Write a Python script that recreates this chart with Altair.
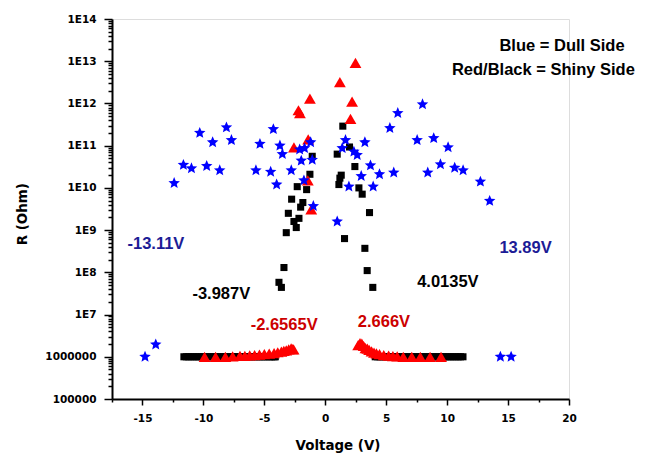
import altair as alt
import pandas as pd

# ---------------- data ----------------
# Blue stars = Dull side
star_v = [-14.79, -13.91, -12.4, -11.64, -10.98, -10.3, -9.73, -9.24, -8.66, -8.11, -7.7,
          -5.69, -5.36, -4.48, -4.26, -3.99, -3.72, -3.52, -2.79, -2.1, -1.97, -1.7, -1.2,
          -1.07, -1.75, -0.98,
          0.98, 1.66, 1.39, 2.35, 2.62, 3.25, 3.71, 2.95, 4.45, 1.94, 3.93, 5.62, 5.3, 5.95,
          7.98, 7.54, 8.9, 10.08, 8.41, 9.45, 10.62, 11.31, 12.73, 13.49, 14.37, 15.25]
star_r = [1.0e6, 1.95e6, 1.3e10, 3.5e10, 2.9e10, 2.0e11, 3.3e10, 1.2e11, 2.6e10, 2.7e11, 1.35e11,
          2.6e10, 1.1e11, 2.4e10, 2.45e11, 1.2e10, 1.0e11, 6.3e10, 2.6e10, 8.1e10, 4.4e10, 8.7e10, 1.2e11,
          4.6e10, 1.5e10, 3.7e9,
          1.6e9, 1.35e11, 8.7e10, 7.2e10, 6.0e10, 1.2e11, 3.4e10, 1.9e10, 2.1e10, 1.07e10, 1.07e10, 2.3e10, 2.6e11, 5.9e11,
          9.5e11, 1.35e11, 1.5e11, 9.1e10, 2.3e10, 3.6e10, 3.0e10, 2.6e10, 1.4e10, 4.9e9, 1.0e6, 1.0e6]

# Black squares = Shiny side
sq_v = [1.44, -1.07, 0.98, 1.99, 2.43, -1.26, -2.3, -1.53, -2.76, -1.84, -2.02, -3.03, -2.16,
        -2.57, -2.38, -3.2, -3.39, -3.8, -3.6, 1.31, 1.2, 1.12, 2.76, 3.03, 3.63, 1.58, 3.25,
        3.44, 3.9]
sq_r = [2.9e11, 5.6e10, 6.3e10, 9.3e10, 3.2e10, 2.1e10, 1.07e10, 9.1e9, 5.4e9, 4.5e9, 3.5e9, 2.5e9, 1.9e9,
        1.6e9, 1.15e9, 8.7e8, 1.3e8, 5.8e7, 4.4e7, 2.0e10, 1.7e10, 1.2e10, 1.0e10, 7.1e9, 2.6e9, 6.3e8, 3.7e8,
        1.1e8, 4.4e7]
sq_flat_v = [-11.6, -11.4, -11.2, -11.0, -10.8, -10.6, -10.4, -10.2, -10.0, -9.8, -9.6, -9.4, -9.2,
             -9.0, -8.8, -8.6, -8.4, -8.2, -8.0, -7.8, -7.6, -7.4, -7.2, -7.0, -6.8, -6.6, -6.4,
             -6.2, -6.0, -5.8, -5.6, -5.4, -5.2, -5.0, -4.8, -4.6, -4.4, -4.2, -4.1,
             4.1, 4.3, 4.5, 4.7, 4.9, 5.1, 5.3, 5.5, 5.7, 5.9, 6.1, 6.3, 6.5, 6.7, 6.9, 7.1,
             7.3, 7.5, 7.7, 7.9, 8.1, 8.3, 8.5, 8.7, 8.9, 9.1, 9.3, 9.5, 9.7, 9.9, 10.1, 10.3,
             10.5, 10.7, 10.9, 11.1, 11.3]
sq_flat_r = [1.0e6] * len(sq_flat_v)

# Red triangles = Shiny side
tri_v = [2.48, 1.2, -1.26, -2.2, -2.08, 2.2, 2.07, -2.57, -1.4, -1.43, -1.15,
         -9.9, -9.0, -8.2, -7.6, -7.0, -6.6, -6.2, -5.8, -5.4, -5.0, -4.6, -4.2, -3.9, -3.6,
         -3.4, -3.2, -3.0, -2.8, -2.7, -2.6,
         2.7, 2.85, 3.0, 3.15, 3.3, 3.45, 3.6, 3.8, 4.0, 4.2, 4.45, 4.8, 5.2, 5.55, 5.9,
         6.4, 7.1, 7.8, 8.6, 9.5]
tri_r = [9.1e12, 3.2e12, 1.3e12, 6.9e11, 5.9e11, 1.1e12, 4.3e11, 9.1e10, 1.4e11, 1.5e10, 3.1e9,
         1.0e6, 1.0e6, 1.0e6, 1.02e6, 1.05e6, 1.05e6, 1.08e6, 1.1e6, 1.12e6, 1.15e6, 1.18e6, 1.22e6, 1.28e6, 1.32e6,
         1.38e6, 1.42e6, 1.5e6, 1.58e6, 1.52e6, 1.5e6,
         1.9e6, 2.1e6, 2.05e6, 1.8e6, 1.6e6, 1.55e6, 1.45e6, 1.35e6, 1.25e6, 1.2e6, 1.15e6, 1.1e6, 1.06e6, 1.04e6, 1.02e6,
         1.0e6, 1.0e6, 1.0e6, 1.0e6, 1.0e6]

# Text annotations
ann_text = ["Blue = Dull Side", "Red/Black = Shiny Side", "-13.11V", "-3.987V", "-2.6565V",
            "2.666V", "4.0135V", "13.89V"]
ann_v = [14.29, 10.39, -16.23, -10.9, -6.12, 2.67, 7.54, 14.29]
ann_r = [1.78e13, 4.7e12, 3.5e8, 2.3e7, 4.2e6, 5.1e6, 4.4e7, 2.8e8]
ann_color = ["#000000", "#000000", "#1c1c96", "#000000", "#cc0000", "#cc0000", "#000000", "#1c1c96"]

# Axis ticks
x_tick_values = [-17.5, -15, -12.5, -10, -7.5, -5, -2.5, 0, 2.5, 5, 7.5, 10, 12.5, 15, 17.5, 20]
x_tick_labels = ["", "-15", "", "-10", "", "-5", "", "0", "", "5", "", "10", "", "15", "", "20"]
y_major_exp = [5, 6, 7, 8, 9, 10, 11, 12, 13, 14]
y_tick_labels = ["100000", "1000000", "1E7", "1E8", "1E9", "1E10", "1E11", "1E12", "1E13", "1E14"]
y_minor_mult = [1, 2, 3, 4, 5, 6, 7, 8, 9]

# ---------------- chart ----------------
y_tick_values = [m * 10.0 ** e for e in y_major_exp[:-1] for m in y_minor_mult] + [10.0 ** y_major_exp[-1]]

lg = "log(datum.value)/LN10"
is_major_y = f"abs({lg} - round({lg})) < 1e-6"
y_label_expr = (f"{is_major_y} ? {y_tick_labels!r}[round({lg}) - {y_major_exp[0]}] : ''")

x_label_expr = " : ".join(
    f"abs(datum.value - ({v})) < 1e-6 ? '{lab}'" for v, lab in zip(x_tick_values, x_tick_labels)
) + " : ''"

stars = pd.DataFrame({"v": star_v, "r": star_r})
squares = pd.DataFrame({"v": sq_v + sq_flat_v, "r": sq_r + sq_flat_r})
tris = pd.DataFrame({"v": tri_v, "r": tri_r})
ann = pd.DataFrame({"v": ann_v, "r": ann_r, "t": ann_text, "c": ann_color})

x_scale = alt.Scale(domain=[-17.5, 20], nice=False, zero=False)
y_scale = alt.Scale(type="log", domain=[1e5, 1e14], nice=False)

axis_common = dict(
    grid=False, domainColor="black", domainWidth=2, tickColor="black", tickWidth=1.5,
    labelFont="DejaVu Sans", labelFontWeight="bold", labelFontSize=10.5, labelColor="black",
    titleFont="DejaVu Sans", titleFontWeight="bold", titleFontSize=13.4, titleColor="black",
    labelOverlap=False, labelFlush=False,
)

x_axis = alt.Axis(
    title="Voltage (V)", values=x_tick_values, labelExpr=x_label_expr,
    tickSize={"condition": {"test": "datum.value % 5 == 0", "value": 6}, "value": 3},
    labelPadding=8, titleX=225.5, titleY=50.7, titleBaseline="alphabetic", titleAlign="center",
    **axis_common,
)
y_axis = alt.Axis(
    title="R (Ohm)", values=y_tick_values, labelExpr=y_label_expr,
    tickSize={"condition": {"test": is_major_y, "value": 8}, "value": 4},
    labelPadding=8, titleX=-86, titleY=194.7, titleAngle=270, titleBaseline="alphabetic",
    titleAlign="center", **axis_common,
)

X = alt.X("v:Q", scale=x_scale, axis=x_axis)
Y = alt.Y("r:Q", scale=y_scale, axis=y_axis)

star_path = ("M0,-1L0.265,-0.364L0.951,-0.309L0.428,0.139L0.588,0.809L0,0.45L-0.588,0.809"
             "L-0.428,0.139L-0.951,-0.309L-0.265,-0.364Z")

sq_layer = alt.Chart(squares).mark_point(
    shape="square", filled=True, color="#000000", size=50, opacity=1, strokeWidth=0
).encode(x=X, y=Y)
tri_layer = alt.Chart(tris).mark_point(
    shape="triangle-up", filled=True, color="#ff0000", size=140, opacity=1, strokeWidth=0
).encode(x=X, y=Y)
star_layer = alt.Chart(stars).mark_point(
    shape=star_path, filled=True, color="#0000ff", size=146, opacity=1, strokeWidth=0
).encode(x=X, y=Y)
text_layer = alt.Chart(ann).mark_text(
    font="Liberation Sans", fontWeight="bold", fontSize=16.5, align="left", baseline="alphabetic"
).encode(x=X, y=Y, text="t:N", color=alt.Color("c:N", scale=None))

chart = alt.layer(sq_layer, tri_layer, star_layer, text_layer).properties(
    width=457, height=380,
    autosize=alt.AutoSizeParams(type="none"),
    padding={"left": 104, "top": 11, "right": 75, "bottom": 60},
).configure_view(stroke=None).configure(background="white")

chart.save("out.html", embed_options={"renderer": "svg", "actions": False})
